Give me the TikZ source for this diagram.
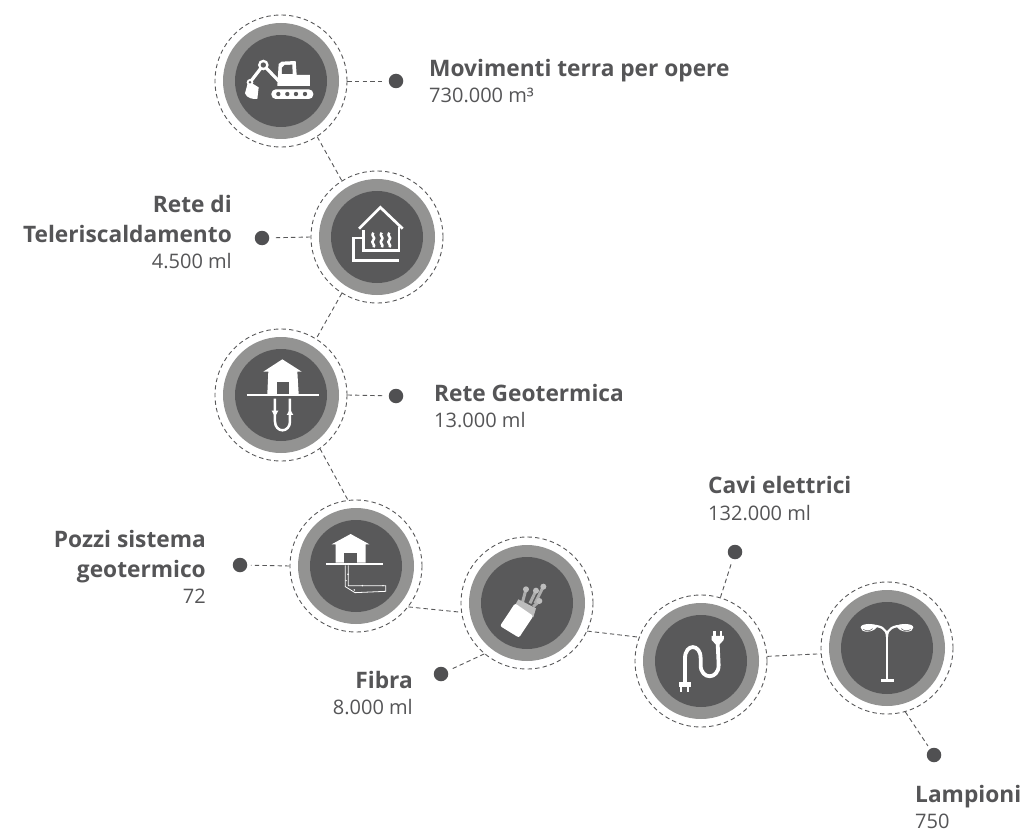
\documentclass[tikz,border=0pt]{standalone}
\usepackage{fontspec}
\setmainfont{Open Sans}
\definecolor{dk}{HTML}{59595A}
\definecolor{md}{HTML}{939392}
\definecolor{dotc}{HTML}{505052}
\definecolor{txt}{HTML}{555557}
\tikzset{
  ringd/.style={circle,draw=dk,line width=0.9pt,dash pattern=on 4.4pt off 3.2pt,minimum size=132pt,inner sep=0pt},
  conn/.style={draw=dk,line width=0.9pt,dash pattern=on 4.4pt off 3.2pt},
  spot/.style={circle,fill=dotc,minimum size=14.5pt,inner sep=0pt},
  ttl/.style={text=txt,font=\fontsize{22.7}{29.3}\selectfont\bfseries,inner sep=0pt},
  val/.style={text=txt,font=\fontsize{20}{22}\selectfont,inner sep=0pt},
  ico/.style={white,line width=2.7pt,line cap=round,line join=round},
  zm/.style={x=0.33333pt,y=-0.33333pt}
}
\newcommand{\disc}[3]{%
  \fill[md] (#1,#2) circle[radius=58pt];
  \fill[dk] (#1,#2) circle[radius=46pt];
  \node[ringd] (#3) at (#1,#2) {};}
\begin{document}
\begin{tikzpicture}[x=1pt,y=-1pt]
\useasboundingbox[fill=white] (0,0) rectangle (1026,832);
\disc{281}{81}{a}
\disc{377}{237}{b}
\disc{281}{395}{c}
\disc{356}{566}{d}
\disc{527}{603}{e}
\disc{701}{661}{f}
\disc{887}{648}{g}
\node[spot] (pa) at (396,81) {};
\node[spot] (pb) at (262,238) {};
\node[spot] (pc) at (396,396) {};
\node[spot] (pd) at (240,565) {};
\node[spot] (pe) at (441,674) {};
\node[spot] (pf) at (735,552) {};
\node[spot] (pg) at (934,755) {};
\begin{scope}[shorten >=3.5pt]
\path[conn] (a.0) -- (pa);
\path[conn] (b.180) -- (pb);
\path[conn] (c.0) -- (pc);
\path[conn] (d.180) -- (pd);
\path[conn] (e.230) -- (pe);
\path[conn] (f.73.5) -- (pf);
\path[conn] (g.-74) -- (pg);
\end{scope}
\path[conn] (a.-57) -- (b.122);
\path[conn] (b.-122) -- (c.58);
\path[conn] (c.-54) -- (d.97);
\path[conn] (d.-38) -- (e.188);
\path[conn] (e.-25) -- (f.159);
\path[conn] (f.4) -- (g.185);
% excavator
\begin{scope}[zm,shift={(600,0)}]
\fill[white,rounded corners=4.5pt] (214,268) rectangle (340,297);
\foreach \q in {235,262,288,315}\fill[dk] (\q,282) circle[radius=6.5];
\fill[white] (232,258) -- (236,192) -- (245,185) -- (287,183) -- (290,225) -- (330,225) -- (330,258) -- cycle;
\fill[dk] (246,222) -- (246,203) -- (254,195) -- (277,194) -- (278,222) -- cycle;
\draw[ico,line width=3.2pt,line cap=butt] (238,245) -- (190,195) -- (150,247);
\fill[white] (190,195) circle[radius=16];
\fill[dk] (190,195) circle[radius=8];
\fill[white] (150,247) circle[radius=10];
\fill[white] (145,243) -- (135,280) .. controls (140,295) and (160,298) .. (172,297) -- (176,262) -- cycle;
\fill[dk] (150,247) circle[radius=4];
\end{scope}
% heating
\begin{scope}[zm,shift={(600,0)}]
\draw[ico,line cap=butt,line join=miter] (477,686) -- (541,622) -- (608,686);
\draw[ico,line cap=butt,line join=miter] (597,680) -- (597,752) -- (490,752) -- (490,690);
\draw[ico,line cap=butt,line join=miter] (490,714) -- (460,714) -- (460,781) -- (597,781);
\foreach \q in {520,545,568}
  \draw[ico,line cap=butt,line width=2.5pt] (\q,698) .. controls (\q-10,708) and (\q+10,712) .. (\q,720) .. controls (\q-10,728) and (\q+8,734) .. (\q+1,742);
\end{scope}
% house + U loop
\begin{scope}[zm,shift={(600,960)}]
\fill[white] (190,155) -- (247,118) -- (305,155) -- (292,155) -- (296,222) -- (202,222) -- (205,155) -- cycle;
\fill[dk] (230,185) rectangle (266,222);
\draw[ico,line cap=butt] (140,225) -- (356,225);
\draw[ico,line cap=butt,line width=2.5pt] (225,236) -- (225,305) arc[start angle=180,end angle=360,x radius=22.5,y radius=-26] -- (270,236);
\fill[white] (215,272) -- (235,272) -- (225,290) -- cycle;
\fill[white] (260,285) -- (280,285) -- (270,268) -- cycle;
\end{scope}
% house + horizontal probe
\begin{scope}[zm,shift={(600,960)}]
\fill[white] (395,673) -- (452,642) -- (508,673) -- (497,673) -- (497,728) -- (407,728) -- (407,673) -- cycle;
\fill[dk] (433,698) rectangle (470,730);
\draw[ico,line cap=butt,line width=2.1pt] (378,733) -- (548,733);
\draw[white,line width=0.8pt] (436,736) -- (436,800) -- (465,818) -- (557,814) -- (557,797) -- (445,797) -- (445,736);
\foreach \q/\r in {444/763,438/782,487/797,549/797,463/810}\fill[white] (\q,\r) circle[radius=2.5];
\end{scope}
% fibre
\begin{scope}[zm,shift={(1350,1620)}]
\foreach \q/\r/\u/\v in {228/148/218/185,258/152/240/190,280/140/255/190,268/183/250/200}{
  \draw[white!50!dk,line width=3pt] (\q,\r) -- (\u,\v);
  \fill[white!60!dk] (\q,\r) circle[radius=9];}
\fill[white!60!dk] (205,178) -- (258,205) -- (250,232) -- (195,196) -- cycle;
\fill[white,rounded corners=2pt] (150,258) -- (195,190) -- (250,228) -- (207,293) -- cycle;
\end{scope}
% plug
\begin{scope}[zm,shift={(1890,1740)}]
\draw[ico,line cap=butt,line width=3.8pt] (165,310) -- (165,235) .. controls (165,190) and (212,190) .. (212,235) -- (212,255) .. controls (212,300) and (266,300) .. (266,255) -- (263,190);
\fill[white] (146,305) -- (182,305) -- (182,322) -- (146,322) -- cycle;
\fill[white] (150,322) rectangle (157,336);
\fill[white] (170,322) rectangle (177,336);
\fill[white] (245,168) -- (282,168) -- (281,180) -- (268,194) -- (258,194) -- (245,180) -- cycle;
\fill[white] (250,152) rectangle (257,168);
\fill[white] (270,152) rectangle (277,168);
\end{scope}
% lamp
\begin{scope}[zm,shift={(1890,1740)}]
\draw[ico,line cap=butt,line width=2.8pt] (771,300) -- (771,165);
\draw[ico,line cap=butt,line width=2.2pt] (771,170) .. controls (771,145) and (750,137) .. (725,137);
\draw[ico,line cap=butt,line width=2.2pt] (771,170) .. controls (771,145) and (792,137) .. (820,137);
\fill[white] (753,296) rectangle (791,306);
\fill[white] (692,142) .. controls (692,130) and (735,128) .. (742,140) .. controls (735,150) and (725,155) .. (710,155) .. controls (700,155) and (692,150) .. (692,142) -- cycle;
\fill[white] (850,142) .. controls (850,130) and (807,128) .. (800,140) .. controls (807,150) and (817,155) .. (832,155) .. controls (842,155) and (850,150) .. (850,142) -- cycle;
\draw[dk,line width=0.5pt] (700,148) .. controls (708,154) and (720,154) .. (728,146);
\draw[dk,line width=0.5pt] (842,148) .. controls (834,154) and (822,154) .. (814,146);
\end{scope}
% labels
\node[ttl,anchor=base west] (ta) at (429,77) {Movimenti terra per opere};
\node[val,anchor=base west] (va) at (429,103) {730.000 m³};
\node[ttl,anchor=base east,align=right] (tb) at (232,242) {Rete di\\Teleriscaldamento};
\node[val,anchor=base east] (vb) at (232,268) {4.500 ml};
\node[ttl,anchor=base west] (tc) at (434,401) {Rete Geotermica};
\node[val,anchor=base west] (vc) at (434,427) {13.000 ml};
\node[ttl,anchor=base east,align=right] (td) at (206,577) {Pozzi sistema\\geotermico};
\node[val,anchor=base east] (vd) at (206,603) {72};
\node[ttl,anchor=base east] (te) at (413,688) {Fibra};
\node[val,anchor=base east] (ve) at (413,714) {8.000 ml};
\node[ttl,anchor=base west] (tf) at (708,493) {Cavi elettrici};
\node[val,anchor=base west] (vf) at (708,520) {132.000 ml};
\node[ttl,anchor=base west] (tg) at (915,802) {Lampioni};
\node[val,anchor=base west] (vg) at (915,828) {750};
\end{tikzpicture}
\end{document}
